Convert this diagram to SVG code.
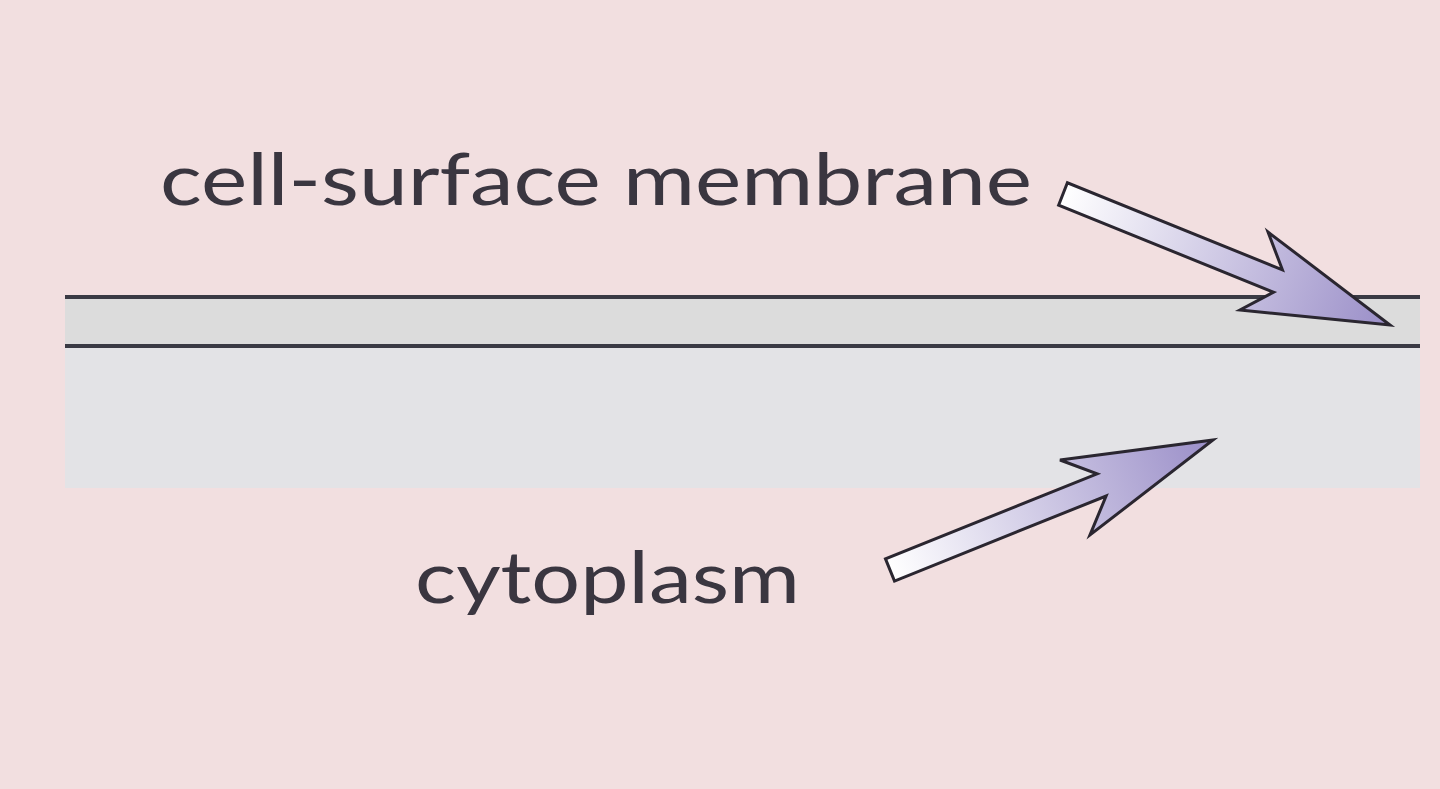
<svg xmlns="http://www.w3.org/2000/svg" width="1440" height="789" viewBox="0 0 1440 789">
<defs>
<linearGradient id="g1" gradientUnits="userSpaceOnUse" x1="1063" y1="194" x2="1390" y2="325"><stop offset="0" stop-color="#ffffff"/><stop offset="1" stop-color="#9a8ec8"/></linearGradient>
<linearGradient id="g2" gradientUnits="userSpaceOnUse" x1="890" y1="570" x2="1213" y2="440"><stop offset="0" stop-color="#ffffff"/><stop offset="1" stop-color="#9a8ec8"/></linearGradient>
<style>
.lbl{font-family:"Lato","Open Sans",sans-serif;font-size:72px;fill:#3a3640}
.arr{stroke:#2a2630;stroke-width:3;stroke-linejoin:miter}
</style>
</defs>
<rect width="1440" height="789" fill="#f2dfe0"/>
<g id="cytoplasm-band"><rect x="65" y="346" width="1355" height="142" fill="#e3e3e6"/></g>
<g id="membrane"><rect x="65" y="297" width="1355" height="49" fill="#dcdcdc"/>
<line x1="65" y1="297" x2="1420" y2="297" stroke="#3a3a44" stroke-width="4"/>
<line x1="65" y1="346" x2="1420" y2="346" stroke="#3a3a44" stroke-width="4"/></g>
<g id="connectors">
<polygon class="arr" fill="url(#g1)" points="1058.6,205.2 1067.4,182.8 1282.4,269.8 1268,232 1390,325 1240,310 1273.6,292.2"/>
<polygon class="arr" fill="url(#g2)" points="885.5,558.9 894.5,581.1 1106.1,496 1090,535 1213,440 1060,460 1097.1,473.8"/>
</g>
<g id="label-membrane"><text class="lbl" x="160" y="205" textLength="872" lengthAdjust="spacingAndGlyphs">cell-surface membrane</text></g>
<g id="label-cytoplasm"><text class="lbl" x="415" y="603" textLength="385" lengthAdjust="spacingAndGlyphs">cytoplasm</text></g>
</svg>
